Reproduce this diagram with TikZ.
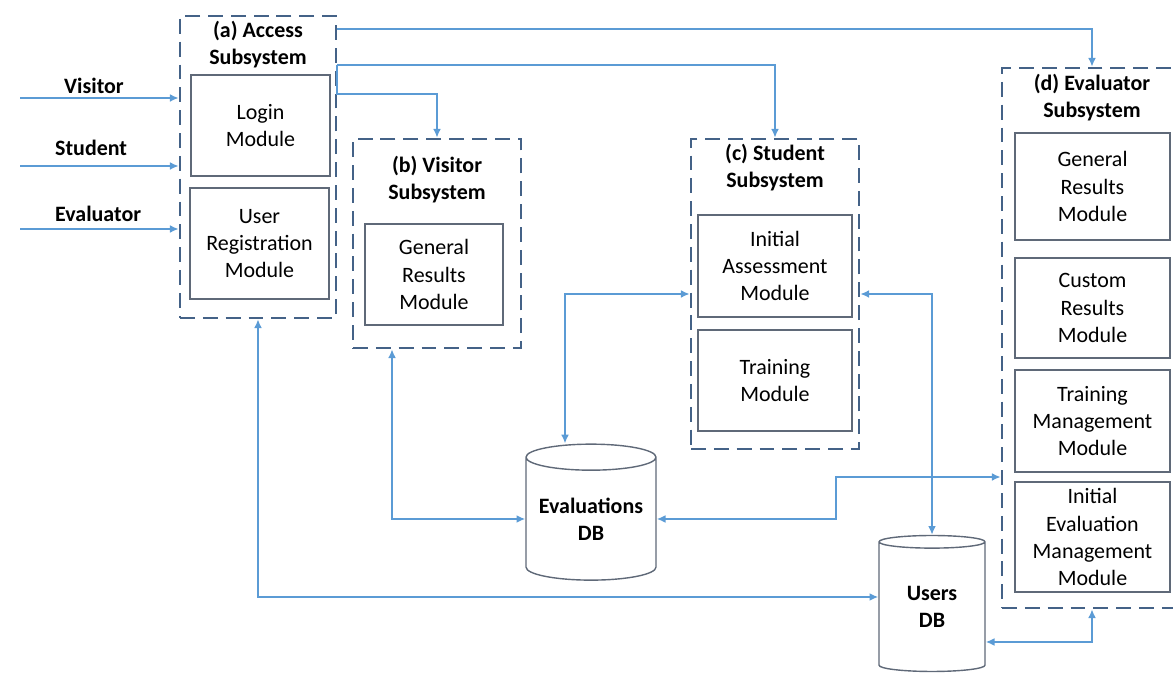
\documentclass[tikz,border=0pt]{standalone}
\usepackage{fontspec}
\setmainfont{Carlito}
\usetikzlibrary{arrows.meta,shapes.geometric,calc,positioning}
\definecolor{linkblue}{RGB}{91,155,213}
\definecolor{subgray}{RGB}{68,98,135}
\definecolor{modgray}{RGB}{95,105,120}
\newcommand\dgmsize{\fontsize{12.5}{15.4}\selectfont}
\tikzset{
  subbox/.style={draw=subgray,line width=1.5pt,dash pattern=on 8.5pt off 4.5pt},
  modbox/.style={draw=modgray,line width=0.8pt,align=center,inner sep=0pt,font=\dgmsize},
  subtitle/.style={align=center,font=\dgmsize\bfseries},
  actorlbl/.style={anchor=west,font=\dgmsize\bfseries},
  dbcyl/.style={cylinder,shape border rotate=90,aspect=0.25,draw=modgray,line width=0.8pt,
    align=center,inner sep=0pt,font=\dgmsize\bfseries},
  conn/.style={draw=linkblue,line width=1.3pt},
  >={Latex[length=5pt,width=4.5pt]}
}
\begin{document}
\begin{tikzpicture}[x=0.02cm,y=-0.02cm]
  \clip (0,0) rectangle (1173,688);
  % (a) access subsystem
  \node[subbox,minimum width=3.12cm,minimum height=6.04cm] (acc) at (258,167) {};
  \node[subtitle] (acct) at (258,45) {(a) Access\\Subsystem};
  \node[modbox,minimum width=2.78cm,minimum height=2.02cm] (login) at (260.5,125.5) {Login\\Module};
  \node[modbox,minimum width=2.78cm,minimum height=2.22cm] (reg) at (259.5,243.5) {User\\Registration\\Module};
  % (b) visitor subsystem
  \node[subbox,minimum width=3.36cm,minimum height=4.18cm] (vis) at (437,243.5) {};
  \node[subtitle] (vist) at (437,180) {(b) Visitor\\Subsystem};
  \node[modbox,minimum width=2.76cm,minimum height=2.02cm] (vgr) at (434,274.5) {General\\Results\\Module};
  % (c) student subsystem
  \node[subbox,minimum width=3.36cm,minimum height=6.2cm] (stu) at (775,294) {};
  \node[subtitle] (stut) at (775,168) {(c) Student\\Subsystem};
  \node[modbox,minimum width=3.08cm,minimum height=2.04cm] (ia) at (775,266) {Initial\\Assessment\\Module};
  \node[modbox,minimum width=3.08cm,minimum height=2.02cm] (tr) at (775,380.5) {Training\\Module};
  % (d) evaluator subsystem
  \node[subbox,minimum width=3.6cm,minimum height=10.8cm] (eva) at (1092,338) {};
  \node[subtitle] (evat) at (1092,98) {(d) Evaluator\\Subsystem};
  \node[modbox,minimum width=3.1cm,minimum height=2.14cm] (egr) at (1092.5,186.5) {General\\Results\\Module};
  \node[modbox,minimum width=3.1cm,minimum height=2cm] (ecr) at (1092.5,308) {Custom\\Results\\Module};
  \node[modbox,minimum width=3.1cm,minimum height=2.04cm] (etm) at (1092.5,421) {Training\\Management\\Module};
  \node[modbox,minimum width=3.1cm,minimum height=2.2cm] (eie) at (1092.5,537) {Initial\\Evaluation\\Management\\Module};
  \coordinate (gap) at ($(etm.south)!0.5!(eie.north)$);
  % databases
  \node[dbcyl,minimum width=2.6cm,minimum height=2.72cm] (evdb) at (591,519) {Evaluations\\DB};
  \node[dbcyl,minimum width=2.12cm,minimum height=2.72cm] (usdb) at (932,607) {Users\\DB};
  % actors
  \coordinate (vin) at (20,98);
  \coordinate (sin) at (20,166);
  \coordinate (ein) at (20,229);
  \node[actorlbl] (lvis) at (58,86) {Visitor};
  \node[actorlbl] (lstu) at (49,148) {Student};
  \node[actorlbl] (leva) at (49,214) {Evaluator};
  \draw[conn,->] (vin) -- (vin -| acc.west);
  \draw[conn,->] (sin) -- (sin -| acc.west);
  \draw[conn,->] (ein) -- (ein -| acc.west);
  % access to subsystems
  \draw[conn,->] (acc.north east) ++(0,14) -| (eva.north);
  \draw[conn,->] (acc.north east) ++(0,50) -| (stu.north);
  \draw[conn,->] (acc.north east) ++(0,50) -- ++(0,29) -| (vis.north);
  % database links
  \draw[conn,<->] (acc.south) |- ([yshift=0.2cm]usdb.west);
  \draw[conn,<->] ([xshift=-0.9cm]vis.south) |- (evdb.west);
  \draw[conn,<->] ([xshift=-0.52cm]evdb.north) |- (stu.west);
  \draw[conn,<->] (stu.east) -| (usdb.north);
  \draw[conn,<->] (evdb.east) -- ++(179,0) |- (eva.west |- gap);
  \draw[conn,<->] ([yshift=-0.7cm]usdb.east) -| (eva.south);
\end{tikzpicture}
\end{document}
